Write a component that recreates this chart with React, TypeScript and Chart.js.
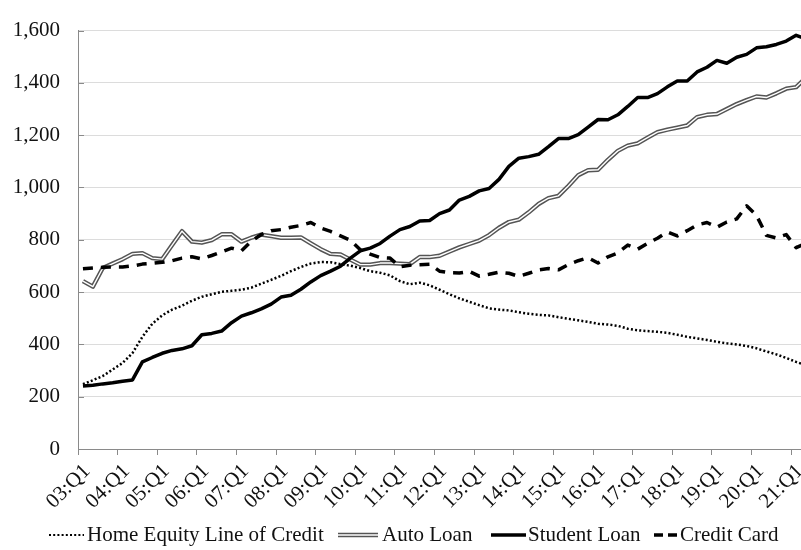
import React, { useEffect, useRef } from 'react';
import { Chart, registerables } from 'chart.js';

Chart.register(...registerables);

// ---- Data (US household debt balances, $ billions), quarterly 2003:Q1 .. 2021:Q2 ----
const YEARS = ['03', '04', '05', '06', '07', '08', '09', '10', '11', '12', '13', '14', '15', '16', '17', '18', '19', '20', '21'];
const QUARTERS = ['Q1', 'Q2', 'Q3', 'Q4'];
const categories: string[] = [];
YEARS.forEach((y) => QUARTERS.forEach((q) => categories.push(`${y}:${q}`)));
categories.splice(74); // through 21:Q2

const seriesLabels = ['Home Equity Line of Credit', 'Auto Loan', 'Student Loan', 'Credit Card'];

const heloc = [
  248, 263, 279, 304, 329, 367, 429, 479, 511, 533, 548, 567, 582, 592, 601, 605,
  609, 617, 632, 647, 662, 680, 696, 709, 715, 714, 707, 701, 692, 680, 674, 664,
  642, 630, 636, 626, 609, 592, 576, 563, 550, 538, 533, 530, 523, 517, 513, 511,
  504, 498, 492, 486, 479, 476, 471, 460, 454, 451, 448, 444, 437, 429, 423, 417,
  410, 404, 400, 394, 385, 373, 362, 348, 333, 320,
];

const autoLoan = [
  642, 621, 692, 709, 726, 746, 749, 730, 726, 780, 833, 793, 789, 799, 821, 821,
  793, 808, 820, 814, 808, 808, 809, 786, 764, 746, 744, 724, 705, 705, 711, 711,
  709, 707, 734, 734, 739, 755, 771, 784, 797, 818, 846, 868, 877, 905, 937, 959,
  968, 1006, 1047, 1066, 1068, 1106, 1140, 1160, 1169, 1191, 1212, 1221, 1229, 1237, 1269, 1278,
  1281, 1300, 1319, 1334, 1348, 1344, 1360, 1378, 1384, 1420,
];

const studentLoan = [
  241, 244, 249, 253, 259, 264, 333, 350, 366, 377, 383, 395, 437, 442, 451, 483,
  508, 521, 536, 554, 581, 588, 611, 639, 663, 680, 699, 730, 758, 768, 786, 814,
  839, 851, 872, 874, 900, 914, 952, 966, 987, 996, 1031, 1081, 1112, 1118, 1127, 1156,
  1187, 1187, 1202, 1231, 1260, 1259, 1278, 1310, 1344, 1344, 1359, 1385, 1407, 1407, 1442, 1460,
  1486, 1475, 1498, 1509, 1534, 1538, 1547, 1560, 1582, 1568,
];

const creditCard = [
  689, 692, 695, 696, 696, 700, 707, 710, 714, 720, 730, 735, 727, 740, 754, 768,
  758, 795, 820, 835, 839, 848, 855, 866, 845, 832, 815, 798, 762, 745, 732, 730,
  697, 703, 705, 707, 680, 674, 673, 679, 661, 668, 676, 672, 660, 672, 685, 690,
  685, 705, 720, 731, 711, 735, 750, 780, 764, 786, 806, 830, 815, 835, 857, 866,
  848, 868, 880, 930, 893, 817, 807, 820, 770, 787,
];

const yMin = 0;
const yMax = 1600;
const yStep = 200;

const FONT = "'Liberation Serif', 'Times New Roman', Times, serif";
const AXIS_GRAY = '#8a8a8a';
const TEXT = '#111111';
const AUTO_GRAY = '#555555';

const legendPlugin = {
  id: 'customLegend',
  afterDraw(chart: any) {
    const ctx = chart.ctx as CanvasRenderingContext2D;
    const y = 535;
    // sample start, sample width, text start
    const layout = [
      [49, 35, 87],
      [338, 40, 382],
      [491, 35, 528],
      [654, 23, 680],
    ];
    ctx.save();
    ctx.lineCap = 'butt';
    layout.forEach(([sx, sw, tx], i) => {
      ctx.beginPath();
      ctx.setLineDash([]);
      if (i === 0) {
        ctx.setLineDash([2, 2.2]);
        ctx.lineWidth = 2.2;
        ctx.strokeStyle = '#000';
        ctx.moveTo(sx, y);
        ctx.lineTo(sx + sw, y);
        ctx.stroke();
      } else if (i === 1) {
        ctx.lineWidth = 4.4;
        ctx.strokeStyle = AUTO_GRAY;
        ctx.moveTo(sx, y);
        ctx.lineTo(sx + sw, y);
        ctx.stroke();
        ctx.beginPath();
        ctx.lineWidth = 1.4;
        ctx.strokeStyle = '#fff';
        ctx.moveTo(sx, y);
        ctx.lineTo(sx + sw, y);
        ctx.stroke();
      } else if (i === 2) {
        ctx.lineWidth = 3.5;
        ctx.strokeStyle = '#000';
        ctx.moveTo(sx, y);
        ctx.lineTo(sx + sw, y);
        ctx.stroke();
      } else {
        ctx.setLineDash([9, 5]);
        ctx.lineWidth = 3.5;
        ctx.strokeStyle = '#000';
        ctx.moveTo(sx, y);
        ctx.lineTo(sx + sw, y);
        ctx.stroke();
      }
      ctx.setLineDash([]);
      ctx.font = `21px ${FONT}`;
      ctx.fillStyle = TEXT;
      ctx.textAlign = 'left';
      ctx.textBaseline = 'middle';
      ctx.fillText(seriesLabels[i], tx, y);
    });
    ctx.restore();
  },
};

const yInsideTicks = {
  id: 'yInsideTicks',
  beforeDatasetsDraw(chart: any) {
    const ctx = chart.ctx as CanvasRenderingContext2D;
    const ys = chart.scales.y;
    const left = chart.chartArea.left;
    ctx.save();
    ctx.strokeStyle = AXIS_GRAY;
    ctx.lineWidth = 1;
    ys.ticks.forEach((t: any) => {
      const py = Math.round(ys.getPixelForValue(t.value)) + 0.5;
      ctx.beginPath();
      ctx.moveTo(left, py);
      ctx.lineTo(left + 6, py);
      ctx.stroke();
    });
    ctx.restore();
  },
};

export default function App() {
  const canvasRef = useRef<HTMLCanvasElement | null>(null);

  useEffect(() => {
    const canvas = canvasRef.current;
    if (!canvas) return;
    const chart = new Chart(canvas, {
      type: 'line',
      data: {
        labels: categories,
        datasets: [
          { label: seriesLabels[2], data: studentLoan, borderColor: '#000', borderWidth: 3.5, order: 0 },
          { label: seriesLabels[3], data: creditCard, borderColor: '#000', borderWidth: 3.5, borderDash: [10, 8], order: 1 },
          { label: seriesLabels[0], data: heloc, borderColor: '#000', borderWidth: 2.5, borderDash: [2, 2.2], order: 2 },
          { label: seriesLabels[1] + ' (inner)', data: autoLoan, borderColor: '#ffffff', borderWidth: 1.4, order: 3 },
          { label: seriesLabels[1], data: autoLoan, borderColor: AUTO_GRAY, borderWidth: 4.4, order: 4 },
        ],
      },
      options: {
        responsive: false,
        animation: false,
        devicePixelRatio: 1,
        layout: { padding: { left: 0, right: 0, top: 24, bottom: 0 } },
        elements: {
          point: { radius: 0, hoverRadius: 0 },
          line: { tension: 0, borderCapStyle: 'butt', borderJoinStyle: 'round', fill: false },
        },
        plugins: { legend: { display: false }, tooltip: { enabled: false } },
        scales: {
          x: {
            type: 'category',
            offset: true,
            grid: {
              offset: true,
              drawOnChartArea: false,
              drawTicks: true,
              tickLength: 6,
              tickWidth: 1,
              tickColor: (c: any) => (c.index % 4 === 0 ? AXIS_GRAY : 'rgba(0,0,0,0)'),
            },
            border: { display: true, color: AXIS_GRAY, width: 1 },
            ticks: {
              autoSkip: false,
              maxRotation: 45,
              minRotation: 45,
              padding: 4,
              labelOffset: 4,
              color: TEXT,
              font: { family: FONT, size: 21 },
              callback: (_v: any, i: number) => (i % 4 === 0 ? categories[i] : ''),
            },
            afterFit: (s: any) => {
              s.height = 101;
              s.paddingLeft = 0;
              s.paddingRight = 0;
            },
          },
          y: {
            min: yMin,
            max: yMax,
            ticks: {
              stepSize: yStep,
              padding: 18,
              color: TEXT,
              font: { family: FONT, size: 21 },
              callback: (v: any) => Number(v).toLocaleString('en-US'),
            },
            grid: { color: '#dcdcdc', lineWidth: 1, drawTicks: false },
            border: { display: true, color: AXIS_GRAY, width: 1 },
            afterFit: (s: any) => {
              s.width = 78;
            },
          },
        },
      },
      plugins: [yInsideTicks, legendPlugin],
    } as any);
    return () => chart.destroy();
  }, []);

  return (
    <div
      style={{
        position: 'absolute',
        left: 0,
        top: 0,
        width: 801,
        height: 550,
        overflow: 'hidden',
        background: '#fff',
      }}
    >
      <canvas ref={canvasRef} width={811} height={550} style={{ display: 'block' }} />
    </div>
  );
}
